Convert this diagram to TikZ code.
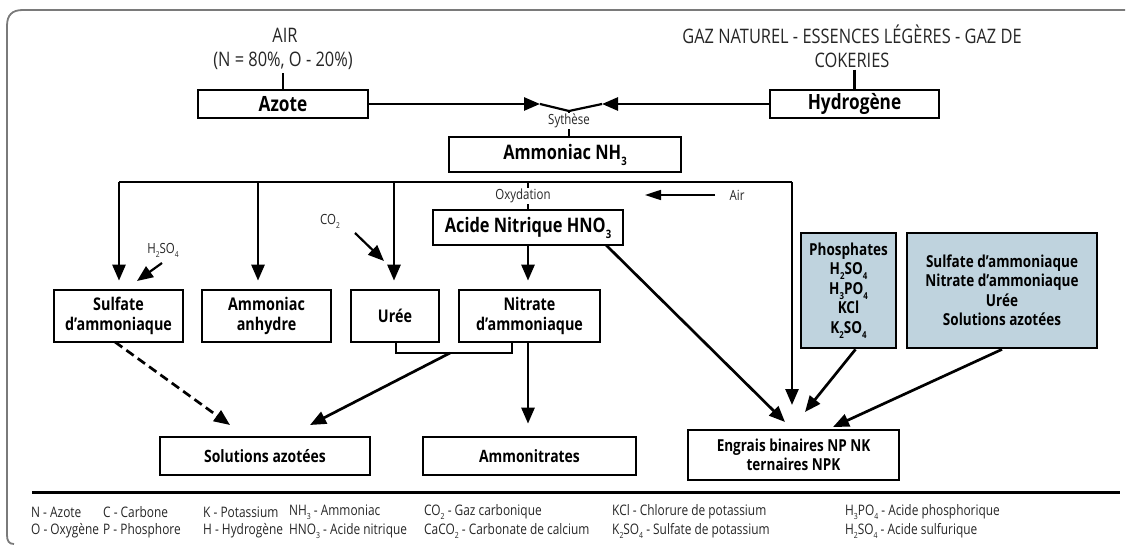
\documentclass[tikz,border=0pt]{standalone}
\usepackage{fontspec}
\setmainfont{Open Sans}[FakeStretch=0.82]
\usetikzlibrary{arrows.meta}
\definecolor{framegray}{HTML}{7A7A7A}
\definecolor{paleblue}{HTML}{BFD3DE}
\definecolor{labelgray}{HTML}{262626}
\newcommand\fs[2]{\fontsize{#1}{#2}\selectfont}
% chemical index, set small and well below the baseline
\newcommand\ix[1]{\raisebox{-0.55ex}{\scalebox{0.58}{#1}}}
\begin{document}
\begin{tikzpicture}[x=1pt,y=-1pt,
  box/.style={draw, line width=2.7pt, inner sep=0pt, align=center},
  titlebox/.style={box, font=\fs{21}{25}\bfseries},
  midbox/.style={box, font=\fs{20}{24}\bfseries},
  rowbox/.style={box, font=\fs{17.5}{20.5}\bfseries},
  bluebox/.style={box, fill=paleblue, font=\fs{16.5}{19.5}\bfseries},
  toplabel/.style={font=\fs{20}{24}, text=labelgray, inner sep=0pt},
  smalllabel/.style={font=\fs{14}{16}, text=labelgray, inner sep=1pt},
  legendtext/.style={font=\fs{14.5}{17}, text=labelgray, inner sep=0pt, anchor=west},
  link/.style={line width=2.7pt},
  arr/.style={link, -{Triangle[length=16pt,width=13pt]}},
  thinarr/.style={line width=1.7pt, -{Triangle[length=16pt,width=10pt]}},
]
\useasboundingbox (0,0) rectangle (1134,545);

% open frame round the chart
\draw[framegray, line width=1.8pt]
  (14,544) .. controls (9,544) and (7,541) .. (7,535) -- (7,26)
  .. controls (7,15) and (12,10) .. (23,10) -- (1125,10);

% raw materials
\node[toplabel] (airtop) at (285,35) {AIR};
\node[toplabel] (aircomp) at (283,61) {(N = 80\%, O - 20\%)};
\node[toplabel] (gaz) at (852,34) {GAZ NATUREL - ESSENCES LÉGÈRES - GAZ DE};
\node[toplabel] (cok) at (852,60) {COKERIES};

\node[titlebox, minimum width=170pt, minimum height=28pt] (azote) at (283,104) {Azote};
\node[titlebox, minimum width=169pt, minimum height=28pt] (hydro) at (854.5,104) {Hydrogène};

\draw[link] (aircomp.south -| azote.north) ++(0,3) -- (azote.north);
\draw[link] (cok.south -| hydro.north) ++(0,2) -- (hydro.north);

% synthesis junction
\coordinate (vleft) at (540,104);
\coordinate (vapex) at (569,111);
\coordinate (vright) at (602,104);
\draw[arr] (azote.east) -- (vleft);
\draw[arr] (hydro.west) -- (vright);
\draw[link, line width=2.2pt] (vleft) -- (vapex) -- (vright);

\node[midbox, minimum width=232pt, minimum height=35pt] (ammo) at (565,154.5) {Ammoniac NH\ix{3}};
\draw[link, line width=2.2pt] (vapex) -- (vapex |- ammo.north);
\node[smalllabel, fill=white] (synth) at (569,121) {Sythèse};

% distribution line below ammonia
\coordinate (busL) at (119,182);
\coordinate (busA) at (258,182);
\coordinate (busU) at (394,182);
\coordinate (busO) at (528,182);
\coordinate (busR) at (792,182);
\draw[link] (busL) -- (busR);

\node[midbox, minimum width=190pt, minimum height=35pt] (acide) at (528,227.5) {Acide Nitrique HNO\ix{3}};
\draw[link, line width=2.2pt] (busO) -- (busO |- acide.north);
\node[smalllabel, fill=white] (oxy) at (523,196) {Oxydation};

\node[smalllabel] (air) at (737,195) {Air};
\coordinate (airtail) at (715,195);
\coordinate (airtip) at (645,195);
\draw[thinarr] (airtail) -- (airtip);

% first products
\node[rowbox, minimum width=129pt, minimum height=52pt] (sulfate) at (118.5,316) {Sulfate\\d’ammoniaque};
\node[rowbox, minimum width=129pt, minimum height=52pt] (anhydre) at (266.5,316) {Ammoniac\\anhydre};
\node[rowbox, minimum width=88pt, minimum height=52pt] (uree) at (395,316) {Urée};
\node[rowbox, minimum width=141pt, minimum height=52pt] (nitrate) at (529.5,316) {Nitrate\\d’ammoniaque};

\draw[arr, shorten >=8pt] (busL) -- (busL |- sulfate.north);
\draw[arr, shorten >=8pt] (busA) -- (busA |- anhydre.north);
\draw[arr, shorten >=8pt] (busU) -- (busU |- uree.north);
\draw[arr, shorten >=8pt] (acide.south) -- (acide.south |- nitrate.north);

% added reagents
\node[smalllabel] (h2so4) at (163,250) {H\ix{2}SO\ix{4}};
\coordinate (h2tail) at (162,263);
\coordinate (h2tip) at (137,281);
\draw[arr, line width=2.2pt] (h2tail) -- (h2tip);

\node[smalllabel] (co2) at (330,221) {CO\ix{2}};
\coordinate (co2tail) at (355,233);
\coordinate (co2tip) at (384,261);
\draw[arr, line width=2.2pt] (co2tail) -- (co2tip);

% side inputs for compound fertilisers
\node[bluebox, minimum width=95pt, minimum height=115pt] (phos) at (848.5,290.5)
  {Phosphates\\H\ix{2}SO\ix{4}\\H\ix{3}PO\ix{4}\\KCl\\K\ix{2}SO\ix{4}};
\node[bluebox, minimum width=190pt, minimum height=115pt] (nitro) at (1002,290.5)
  {Sulfate d’ammoniaque\\Nitrate d’ammoniaque\\Urée\\Solutions azotées};

% final products
\node[rowbox, font=\fs{17}{20}\bfseries, minimum width=210pt, minimum height=38pt] (solutions) at (265,456) {Solutions azotées};
\node[rowbox, font=\fs{17}{20}\bfseries, minimum width=213pt, minimum height=38pt] (ammonitr) at (529.5,456) {Ammonitrates};
\node[rowbox, font=\fs{16.5}{19}\bfseries, minimum width=211pt, minimum height=50pt] (engrais) at (793.5,455) {Engrais binaires NP NK\\ternaires NPK};

% bracket joining urea and ammonium nitrate
\coordinate (brL) at (396,353);
\coordinate (brR) at (512,353);
\coordinate (brM) at (450,353);
\draw[link, line width=2.2pt] (brL |- uree.south) -- (brL) -- (brR) -- (brR |- nitrate.south);
\coordinate (soltipR) at (310,425);
\draw[arr] (brM) -- (soltipR);

\coordinate (sulfstart) at (115,342);
\coordinate (soltipL) at (230,425);
\draw[arr, dash pattern=on 9pt off 5pt] (sulfstart) -- (soltipL);

\coordinate (nitdrop) at (528,342);
\draw[arr, shorten >=12pt] (nitdrop) -- (nitdrop |- ammonitr.north);

% converging arrows to compound fertilisers
\coordinate (acstart) at (606,245);
\coordinate (engtipA) at (785,422);
\coordinate (engtipB) at (792,405);
\coordinate (engtipC) at (805,412);
\coordinate (engtipD) at (833,427);
\draw[arr] (acstart) -- (engtipA);
\draw[arr] (busR) -- (engtipB);
\draw[arr] (phos.south) ++(7,0) -- (engtipC);
\draw[arr] (nitro.south) -- (engtipD);

% legend
\coordinate (legL) at (32,492);
\coordinate (legR) at (1120,492);
\draw[line width=3pt] (legL) -- (legR);
\node[legendtext] (l1a) at (31,512) {N - Azote};
\node[legendtext] (l1b) at (31,531) {O - Oxygène};
\node[legendtext] (l2a) at (103,512) {C - Carbone};
\node[legendtext] (l2b) at (103,531) {P - Phosphore};
\node[legendtext] (l3a) at (203,512) {K - Potassium};
\node[legendtext] (l3b) at (203,531) {H - Hydrogène};
\node[legendtext] (l4a) at (289,512) {NH\ix{3} - Ammoniac};
\node[legendtext] (l4b) at (289,531) {HNO\ix{3} - Acide nitrique};
\node[legendtext] (l5a) at (424,512) {CO\ix{2} - Gaz carbonique};
\node[legendtext] (l5b) at (424,531) {CaCO\ix{2} - Carbonate de calcium};
\node[legendtext] (l6a) at (612,512) {KCl - Chlorure de potassium};
\node[legendtext] (l6b) at (612,531) {K\ix{2}SO\ix{4} - Sulfate de potassium};
\node[legendtext] (l7a) at (845,512) {H\ix{3}PO\ix{4} - Acide phosphorique};
\node[legendtext] (l7b) at (845,531) {H\ix{2}SO\ix{4} - Acide sulfurique};
\end{tikzpicture}
\end{document}
